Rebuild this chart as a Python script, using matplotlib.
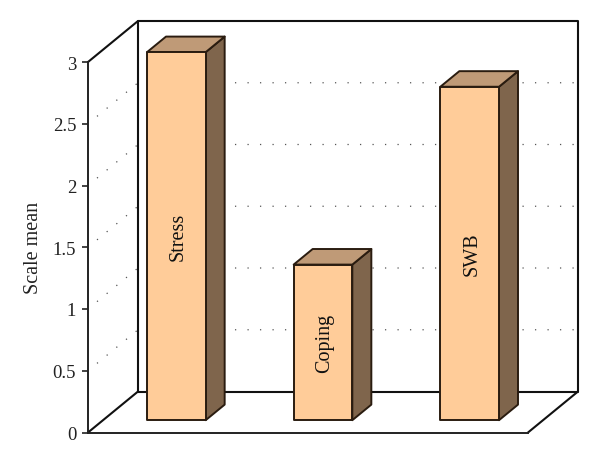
#Importing the Required Libraries and Modules
import matplotlib
matplotlib.use("Agg")
import matplotlib.pyplot as plt
from matplotlib.patches import Polygon

#Chart data
categories = ["Stress", "Coping", "SWB"]
scale_means = [2.98, 1.26, 2.70]
y_ticks = [0, 0.5, 1, 1.5, 2, 2.5, 3]
y_tick_labels = ["0", "0.5", "1", "1.5", "2", "2.5", "3"]

#Oblique depth of the box, in data units per full depth
DEPTH_X = 50 / 146.67
DEPTH_Y = 41 / 123.5
BAR_WIDTH = 0.40
BAR_Z0 = 0.30
BAR_Z1 = 0.68


def proj(x, y, z=0.0):
    return (x + z * DEPTH_X, y + z * DEPTH_Y)


plt.rcParams["font.family"] = ["Liberation Serif", "DejaVu Serif"]

W, H = 600, 464
fig = plt.figure(figsize=(W / 100, H / 100), dpi=100)
ax = fig.add_axes([88 / W, 1 - 433.5 / H, 440 / W, 370.5 / H])
ax.set_xlim(0, 3)
ax.set_ylim(0, 3)
ax.patch.set_visible(False)

for side in ["top", "right"]:
    ax.spines[side].set_visible(False)
for side in ["left", "bottom"]:
    ax.spines[side].set_linewidth(1.4)
    ax.spines[side].set_color("#222222")

ax.set_xticks([])
ax.set_yticks(y_ticks)
ax.set_yticklabels(y_tick_labels, fontsize=13.5, color="#222222")
ax.tick_params(axis="y", length=4, width=1.2, pad=4.5, color="#222222")
ax.set_ylabel("Scale mean", fontsize=14.5, color="#222222", labelpad=7)

#Walls and floor edges
line_style = dict(color="#111111", lw=1.5, clip_on=False, zorder=2, solid_capstyle="round")
back_corners = [proj(0, 0, 1), proj(0, 3, 1), proj(3, 3, 1), proj(3, 0, 1), proj(0, 0, 1)]
ax.plot(*zip(*back_corners), **line_style)
ax.plot(*zip(proj(0, 3), proj(0, 3, 1)), **line_style)
ax.plot(*zip(proj(0, 0), proj(0, 0, 1)), **line_style)
ax.plot(*zip(proj(3, 0), proj(3, 0, 1)), **line_style)

#Dotted gridlines on the side and back walls
dot_style = dict(color="#555555", lw=0.9, ls=(0, (1, 9)), clip_on=False, zorder=1)
for tick in y_ticks[1:-1]:
    ax.plot(*zip(proj(0, tick, 0.18), proj(0, tick, 1), proj(3, tick, 1)), **dot_style)

#Bars drawn as three faces
edge = dict(edgecolor="#2a1c10", linewidth=1.4, joinstyle="round", clip_on=False, zorder=3)
for i, (name, value) in enumerate(zip(categories, scale_means)):
    left = i + 0.5 - BAR_WIDTH / 2
    right = i + 0.5 + BAR_WIDTH / 2
    side_face = [proj(right, 0, BAR_Z0), proj(right, 0, BAR_Z1),
                 proj(right, value, BAR_Z1), proj(right, value, BAR_Z0)]
    top_face = [proj(left, value, BAR_Z0), proj(left, value, BAR_Z1),
                proj(right, value, BAR_Z1), proj(right, value, BAR_Z0)]
    front_face = [proj(left, 0, BAR_Z0), proj(right, 0, BAR_Z0),
                  proj(right, value, BAR_Z0), proj(left, value, BAR_Z0)]
    ax.add_patch(Polygon(side_face, facecolor="#7f654c", **edge))
    ax.add_patch(Polygon(top_face, facecolor="#bf9a77", **edge))
    ax.add_patch(Polygon(front_face, facecolor="#ffcc99", **edge))
    ax.annotate(name, proj(i + 0.5, value / 2, BAR_Z0), xytext=(1.5, 0),
                textcoords="offset points", rotation=90, ha="center", va="center",
                fontsize=14.5, color="#111111", zorder=4)

fig.savefig("out.png", dpi=100)
